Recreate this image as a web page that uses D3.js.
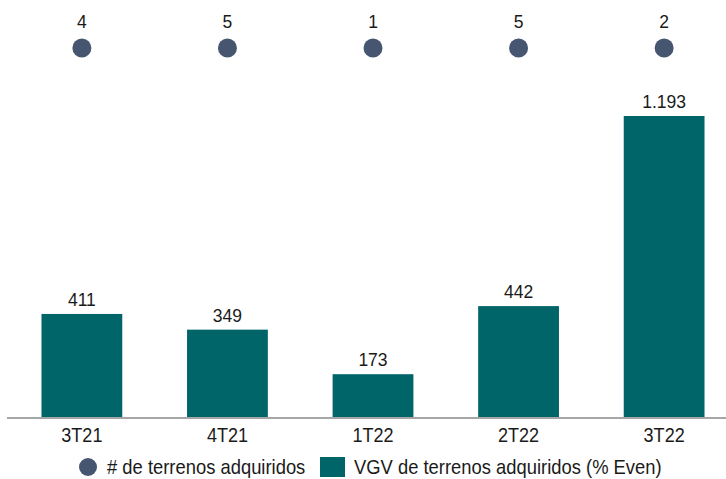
<!DOCTYPE html>
<html>
<head>
<meta charset="utf-8">
<script src="https://cdn.jsdelivr.net/npm/d3@7"></script>
<style>
  html, body { margin: 0; padding: 0; background: #fff; }
  svg { display: block; font-family: "Liberation Sans", Arial, sans-serif; }
</style>
</head>
<body>
<svg id="chart" width="726" height="479"></svg>
<script>
// Quarterly land acquisitions
const quarters = ["3T21", "4T21", "1T22", "2T22", "3T22"];
const vgvValues = [411, 349, 173, 442, 1193];
const landCounts = [4, 5, 1, 5, 2];
const vgvLabels = ["411", "349", "173", "442", "1.193"];
const legendLabels = ["# de terrenos adquiridos", "VGV de terrenos adquiridos (% Even)"];

const barColor = "#006569";
const dotColor = "#465670";
const textColor = "#1a1a1a";

const svg = d3.select("#chart");
const baseY = 418;

const x = d3.scaleBand()
  .domain(quarters)
  .range([8, 738])
  .paddingInner(0.445)
  .paddingOuter(0.23);

const y = d3.scaleLinear()
  .domain([0, 1193])
  .range([baseY, 116]);

const cx = d => x(d) + x.bandwidth() / 2;

// Bars
svg.append("g")
  .selectAll("rect")
  .data(quarters)
  .join("rect")
  .attr("x", d => x(d))
  .attr("y", (d, i) => y(vgvValues[i]))
  .attr("width", x.bandwidth())
  .attr("height", (d, i) => baseY - y(vgvValues[i]))
  .attr("fill", barColor);

// Value labels above bars
svg.append("g")
  .selectAll("text")
  .data(quarters)
  .join("text")
  .attr("x", cx)
  .attr("y", (d, i) => y(vgvValues[i]) - 8)
  .attr("text-anchor", "middle")
  .attr("font-size", 17.5)
  .attr("fill", textColor)
  .text((d, i) => vgvLabels[i]);

// Baseline axis with narrow, tall category labels
const axis = svg.append("g")
  .attr("transform", `translate(0,${baseY})`)
  .call(d3.axisBottom(x).tickSize(0).tickPadding(0));
axis.select(".domain").attr("stroke", "#a6a6a6").attr("stroke-width", 2)
  .attr("d", "M7,0H726");
axis.selectAll(".tick text")
  .attr("y", 0)
  .attr("dy", null)
  .attr("transform", "translate(0,24) scale(0.88,1)")
  .attr("font-size", 20.5)
  .attr("font-family", "Liberation Sans, Arial, sans-serif")
  .attr("fill", textColor);

// Land count markers
const dots = svg.append("g");
dots.selectAll("circle")
  .data(quarters)
  .join("circle")
  .attr("cx", cx)
  .attr("cy", 48)
  .attr("r", 9.5)
  .attr("fill", dotColor);
dots.selectAll("text")
  .data(quarters)
  .join("text")
  .attr("x", cx)
  .attr("y", 28)
  .attr("text-anchor", "middle")
  .attr("font-size", 17.5)
  .attr("fill", textColor)
  .text((d, i) => landCounts[i]);

// Legend
const legend = svg.append("g");
legend.append("circle").attr("cx", 88).attr("cy", 467).attr("r", 9).attr("fill", dotColor);
legend.append("text")
  .attr("transform", "translate(107,474) scale(0.92,1)")
  .attr("font-size", 20).attr("fill", textColor).text(legendLabels[0]);
legend.append("rect").attr("x", 320).attr("y", 457).attr("width", 25).attr("height", 20).attr("fill", barColor);
legend.append("text")
  .attr("transform", "translate(354,474) scale(0.92,1)")
  .attr("font-size", 20).attr("fill", textColor).text(legendLabels[1]);
</script>
</body>
</html>
